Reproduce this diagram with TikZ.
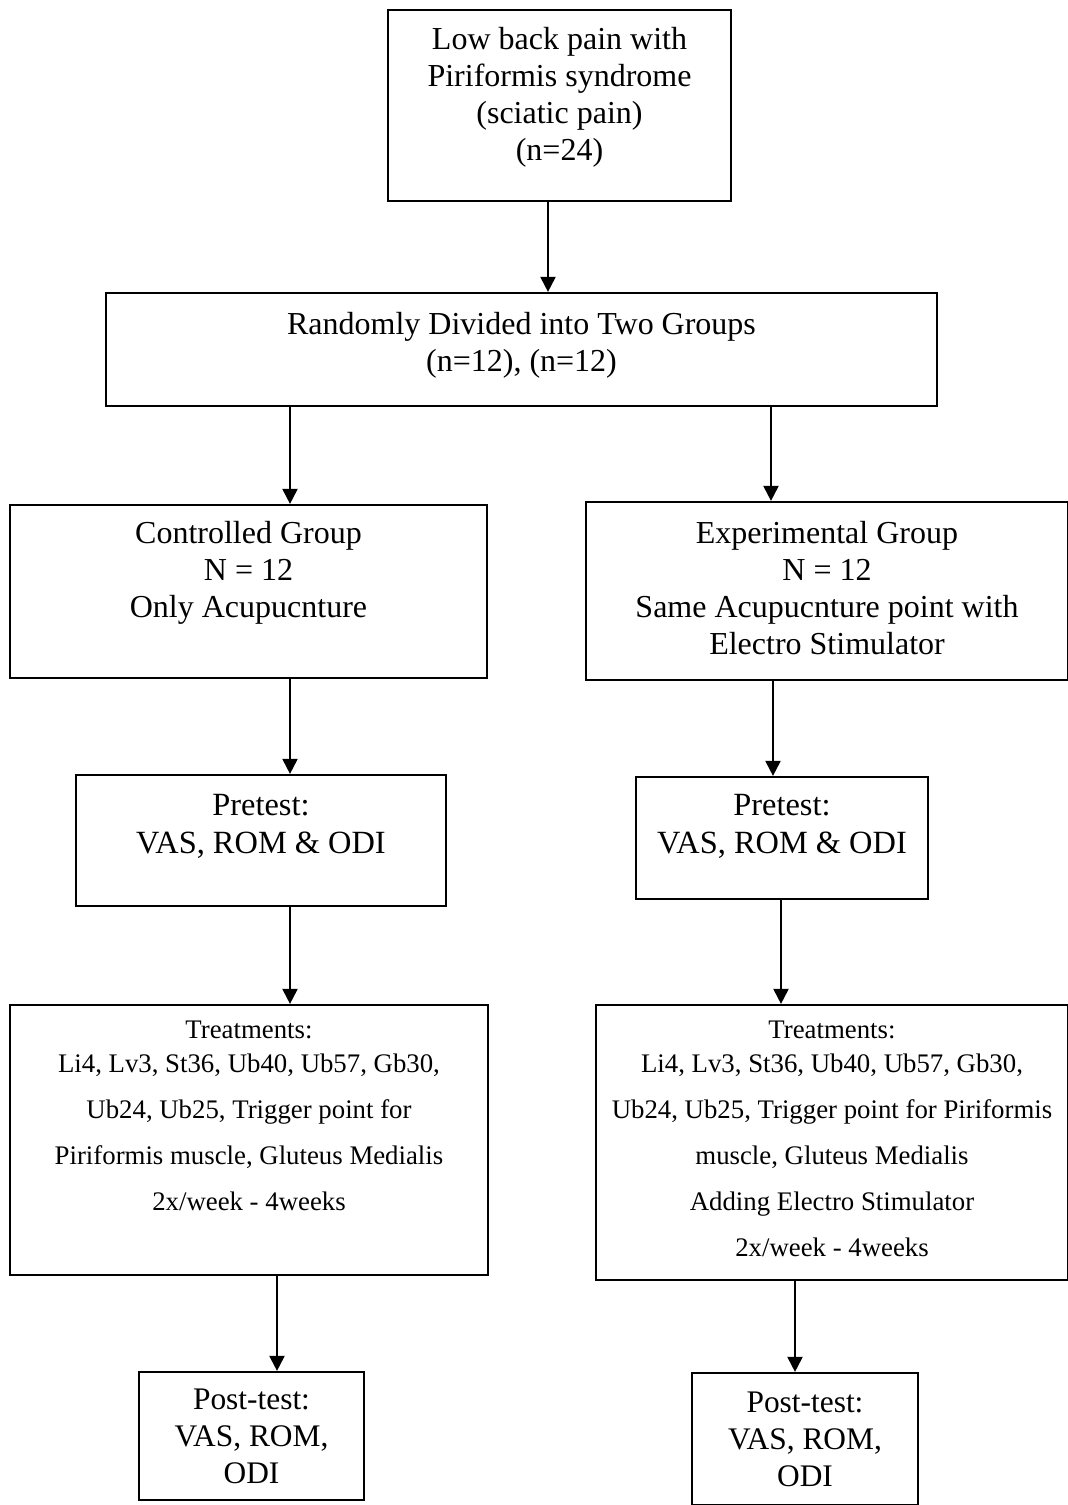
\documentclass[tikz,border=0pt]{standalone}
\usepackage{fontspec}
\setmainfont{Liberation Serif}
\usetikzlibrary{arrows.meta}

\tikzset{
  box/.style={draw,line width=1.1pt,align=center,inner sep=0pt,
    font=\fontsize{16}{18.5}\selectfont},
  testbox/.style={box,font=\fontsize{16.2}{19}\selectfont},
  treatbox/.style={box,font=\fontsize{13.4}{23}\selectfont},
  postbox/.style={box,font=\fontsize{15.7}{18.5}\selectfont},
  link/.style={line width=1pt,-{Triangle[length=7.5pt,width=7.5pt]}}
}

\begin{document}
\begin{tikzpicture}[x=0.5pt,y=-0.5pt]
 \useasboundingbox (0,0) rectangle (1068,1505);
 % top
 \node[box,minimum width=171.5pt,minimum height=95.5pt,text depth=12pt] (pain) at (559.5,105.5)
    {Low back pain with\\Piriformis syndrome\\(sciatic pain)\\(n=24)};
 \node[box,minimum width=415.5pt,minimum height=56.5pt,text depth=8pt] (split) at (521.5,349.5)
    {Randomly Divided into Two Groups\\(n=12), (n=12)};
 % groups
 \node[box,minimum width=238.5pt,minimum height=86.5pt,text depth=22pt] (ctrl) at (248.5,591.5)
    {Controlled Group\\N = 12\\Only Acupucnture};
 \node[box,minimum width=241pt,minimum height=89pt,text depth=3.5pt] (expm) at (827,591)
    {Experimental Group\\N = 12\\Same Acupucnture point with\\Electro Stimulator};
 % pretest
 \node[testbox,minimum width=185pt,minimum height=65.5pt,text depth=17pt] (preL) at (261,840.5)
    {Pretest:\\VAS, ROM \& ODI};
 \node[testbox,minimum width=146pt,minimum height=61pt,text depth=14pt] (preR) at (782,838)
    {Pretest:\\VAS, ROM \& ODI};
 % treatments
 \node[treatbox,minimum width=239pt,minimum height=135pt,text depth=24pt] (treatL) at (249,1140)
    {Treatments:\\[-6pt]Li4, Lv3, St36, Ub40, Ub57, Gb30,\\Ub24, Ub25, Trigger point for\\
     Piriformis muscle, Gluteus Medialis\\2x/week - 4weeks};
 \node[treatbox,minimum width=236pt,minimum height=137.5pt,text depth=4pt] (treatR) at (832,1142.5)
    {Treatments:\\[-6pt]Li4, Lv3, St36, Ub40, Ub57, Gb30,\\Ub24, Ub25, Trigger point for Piriformis\\
     muscle, Gluteus Medialis\\Adding Electro Stimulator\\2x/week - 4weeks};
 % post-test
 \node[postbox,minimum width=112.5pt,minimum height=64pt] (postL) at (251.5,1436)
    {Post-test:\\VAS, ROM,\\ODI};
 \node[postbox,minimum width=113pt,minimum height=66pt] (postR) at (805,1439)
    {Post-test:\\VAS, ROM,\\ODI};
 % arrows
 \foreach \from/\to/\x in {pain/split/548,split/ctrl/290,split/expm/771,ctrl/preL/290,
    expm/preR/773,preL/treatL/290,preR/treatR/781,treatL/postL/277,treatR/postR/795}
  \draw[link] (\from.south -| \x,0) -- (\to.north -| \x,0);
\end{tikzpicture}
\end{document}
